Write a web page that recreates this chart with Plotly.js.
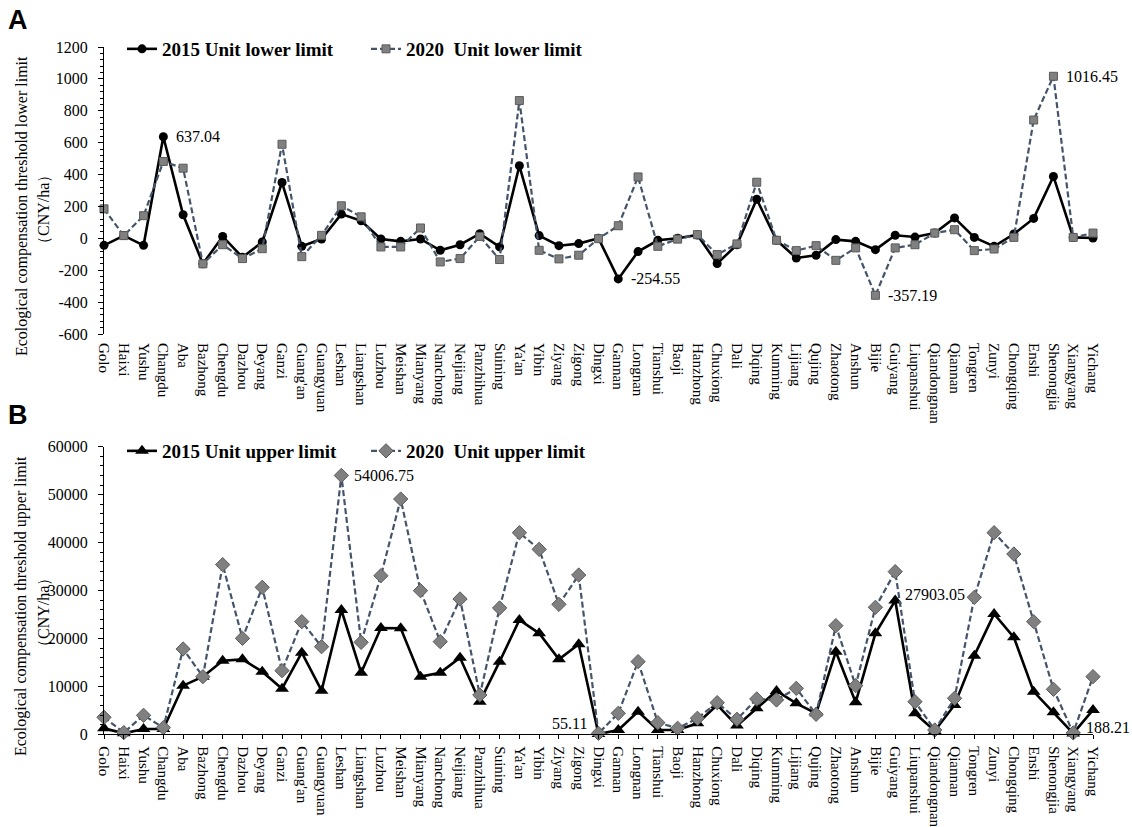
<!DOCTYPE html>
<html><head><meta charset="utf-8">
<script src="https://cdn.plot.ly/plotly-3.0.1.min.js"></script>
<style>html,body{margin:0;padding:0;background:#fff}#chart{width:1132px;height:827px}</style>
</head><body><div id="chart"></div>
<script>
const cities = ["Golo","Haixi","Yushu","Changdu","Aba","Bazhong","Chengdu","Dazhou","Deyang","Ganzi",
  "Guang'an","Guangyuan","Leshan","Liangshan","Luzhou","Meishan","Mianyang","Nanchong","Neijiang","Panzhihua",
  "Suining","Ya'an","Yibin","Ziyang","Zigong","Dingxi","Gannan","Longnan","Tianshui","Baoji",
  "Hanzhong","Chuxiong","Dali","Diqing","Kunming","Lijiang","Qujing","Zhaotong","Anshun","Bijie",
  "Guiyang","Liupanshui","Qiandongnan","Qiannan","Tongren","Zunyi","Chongqing","Enshi","Shenongjia","Xiangyang","Yichang"];

const lower2015 = [-44,17,-44,637.04,148,-160,12,-119,-23,350,-50,-4,152,110,-4,-19,-4,-75,-40,29,
  -54,455,17,-46,-33,0,-254.55,-83,-12,0,21,-158,-40,245,-12,-123,-106,-8,-19,-71,
  19,8,33,128,6,-50,27,125,388,6,2];
const lower2020 = [185,17,142,482,440,-160,-40,-127,-65,590,-115,19,204,135,-54,-54,65,-148,-127,12,
  -133,864,-75,-129,-106,-2,79,385,-50,-5,23,-102,-35,352,-12,-77,-46,-138,-60,-357.19,
  -60,-40,33,54,-77,-67,6,742,1016.45,6,33];
const upper2015 = [1250,200,1110,1110,10150,12030,15360,15640,13070,9520,17030,9110,25930,12860,22180,22110,12030,12860,15990,6810,
  15160,23850,21070,15640,18770,55.11,900,4730,900,900,2290,6120,1810,5420,9040,6470,4380,17240,6670,21070,
  27903.05,4380,700,6120,16410,25100,20230,8900,4590,188.21,5080];
const upper2020 = [3550,350,3960,1390,17800,12030,35390,20020,30660,13280,23500,18280,54006.75,19190,33090,49080,29960,19330,28230,8200,
  26350,42060,38580,27110,33230,200,4380,15160,2430,1250,3340,6600,3130,7370,7160,9590,4170,22660,10150,26490,
  33930,6810,900,7510,28570,42060,37610,23500,9390,300,12030];

const yTicksA = [-600,-400,-200,0,200,400,600,800,1000,1200];
const yTicksB = [0,10000,20000,30000,40000,50000,60000];

const seriesNames = {
  l15: "2015 Unit lower limit", l20: "2020\u00a0 Unit lower limit",
  u15: "2015 Unit upper limit", u20: "2020\u00a0 Unit upper limit"
};
const yTitleA = "Ecological compensation threshold lower limit";
const yTitleB = "Ecological compensation threshold upper limit";
const yUnit = "（CNY/ha）";

// labelled points: [panel, series, city, side]
const labelled = [
  ["A", lower2015, "Changdu", "r"],
  ["A", lower2015, "Gannan", "r"],
  ["A", lower2020, "Bijie", "r"],
  ["A", lower2020, "Shenongjia", "r"],
  ["B", upper2020, "Leshan", "r"],
  ["B", upper2015, "Guiyang", "r2"],
  ["B", upper2015, "Dingxi", "l"],
  ["B", upper2015, "Xiangyang", "r3"]
];

const W = 1132, H = 827;
const px = v => v / W, py = v => 1 - v / H;
const xDom = [px(104), px(1093)];
const domA = [py(334), py(47)];
const domB = [py(734.3), py(446.7)];
const zeroA = domA[0] + (domA[1] - domA[0]) * (600 / 1800);

const serif = "Liberation Serif";
const dash2020 = "6px,3px";
const grey = "#808080", slate = "#44546A";

const traces = [
  {x: cities, y: lower2015, name: seriesNames.l15, mode: "lines+markers", xaxis: "x", yaxis: "y", legend: "legend",
   line: {color: "#000", width: 2.6}, marker: {symbol: "circle", size: 9, color: "#000"}, cliponaxis: false},
  {x: cities, y: lower2020, name: seriesNames.l20, mode: "lines+markers", xaxis: "x", yaxis: "y", legend: "legend",
   line: {color: slate, width: 2.2, dash: dash2020}, marker: {symbol: "square", size: 8, color: grey, line: {color: "#5a5a5a", width: 1}}, cliponaxis: false},
  {x: cities, y: upper2015, name: seriesNames.u15, mode: "lines+markers", xaxis: "x2", yaxis: "y2", legend: "legend2",
   line: {color: "#000", width: 2.6}, marker: {symbol: "triangle-up", size: 12, color: "#000"}, cliponaxis: false},
  {x: cities, y: upper2020, name: seriesNames.u20, mode: "lines+markers", xaxis: "x2", yaxis: "y2", legend: "legend2",
   line: {color: slate, width: 2.2, dash: dash2020}, marker: {symbol: "diamond", size: 11, color: grey, line: {color: "#5a5a5a", width: 1}}, cliponaxis: false}
];

const catAxis = (anchor) => ({
  type: "category", categoryarray: cities, categoryorder: "array", range: [0, 50], domain: xDom, anchor: anchor,
  tickangle: 90, tickfont: {family: serif, size: 15, color: "#000"}, showgrid: false, zeroline: false,
  automargin: false, fixedrange: true
});
const tickAxis = (pos, dir) => ({
  overlaying: "x", anchor: "free", position: pos, range: [0, 50], tick0: 0, dtick: 1, domain: xDom,
  ticks: dir, ticklen: 4, tickcolor: "#000", showline: true, linecolor: "#000", linewidth: 1,
  showticklabels: false, showgrid: false, zeroline: false, automargin: false, fixedrange: true
});
const valAxis = (dom, rng, tv, minorStep) => ({
  domain: dom, range: rng, tickvals: tv, ticktext: tv.map(String), ticks: "outside", ticklen: 5, tickcolor: "#000",
  minor: {tickvals: (() => { const a = []; for (let v = rng[0]; v <= rng[1] + 1e-9; v += minorStep) a.push(v); return a; })(), ticks: "outside", ticklen: 3, tickcolor: "#000"},
  showline: true, linecolor: "#000", linewidth: 1, showgrid: false, zeroline: false,
  tickfont: {family: serif, size: 16, color: "#000"}, ticklabelstandoff: 7, automargin: false, fixedrange: true
});

const xA = catAxis("y"); xA.ticks = ""; xA.showline = false; xA.ticklabelstandoff = 8;
const xB = catAxis("y2"); xB.ticks = "outside"; xB.ticklen = 4; xB.tickcolor = "#000"; xB.showline = true; xB.linecolor = "#000"; xB.ticklabelstandoff = 4;

const annotations = [];
labelled.forEach(([panel, arr, city, side]) => {
  const i = cities.indexOf(city);
  const v = arr[i];
  const a = {x: city, y: v, xref: panel === "A" ? "x" : "x2", yref: panel === "A" ? "y" : "y2",
    text: v.toFixed(2), showarrow: false, font: {family: serif, size: 16, color: "#000"},
    xanchor: "left", yanchor: "middle", xshift: 11, yshift: 0};
  if (side === "l") { a.xanchor = "right"; a.xshift = -10; a.yshift = 11; }
  if (side === "r2") { a.xshift = 8; a.yshift = 6; }
  if (side === "r3") { a.xshift = 11; a.yshift = 6; }
  annotations.push(a);
});
const paperText = (x, y, text, opts) => Object.assign({xref: "paper", yref: "paper", x: x, y: y, text: text, showarrow: false,
  xanchor: "center", yanchor: "middle", font: {family: serif, size: 16, color: "#000"}}, opts || {});
annotations.push(paperText(px(22), py(206), yTitleA, {textangle: -90}));
annotations.push(paperText(px(44), py(210), yUnit, {textangle: -90}));
annotations.push(paperText(px(21), py(606), yTitleB, {textangle: -90}));
annotations.push(paperText(px(43), py(613), yUnit, {textangle: -90}));
const letterFont = {family: "Liberation Sans", size: 27, color: "#000", weight: "bold"};
annotations.push(paperText(px(18), py(20), "A", {font: letterFont}));
annotations.push(paperText(px(18), py(415), "B", {font: letterFont}));

const legFont = {family: serif, size: 19, color: "#000", weight: "bold"};
const legendBase = {orientation: "h", xanchor: "left", yanchor: "top", font: legFont,
  bgcolor: "rgba(0,0,0,0)", entrywidth: 199, entrywidthmode: "pixels", itemwidth: 30, tracegroupgap: 0};
const layout = {
  width: W, height: H, margin: {l: 0, r: 0, t: 0, b: 0}, paper_bgcolor: "#fff", plot_bgcolor: "#fff",
  showlegend: true, hovermode: false,
  xaxis: xA, xaxis2: xB,
  xaxis3: tickAxis(zeroA, "outside"), xaxis4: tickAxis(zeroA, "inside"),
  xaxis5: Object.assign(tickAxis(domB[0], "inside"), {overlaying: "x2"}),
  yaxis: Object.assign(valAxis(domA, [-600, 1200], yTicksA, 40), {anchor: "x"}),
  yaxis2: Object.assign(valAxis(domB, [0, 60000], yTicksB, 2000), {anchor: "x2"}),
  legend: Object.assign({x: px(122), y: py(30)}, legendBase),
  legend2: Object.assign({x: px(122), y: py(432)}, legendBase),
  annotations: annotations
};

Plotly.newPlot("chart", traces, layout, {displayModeBar: false, staticPlot: true});
</script></body></html>
